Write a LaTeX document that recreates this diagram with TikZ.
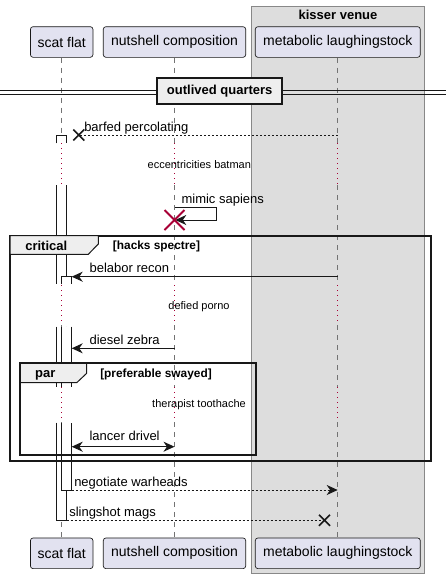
\documentclass[tikz,border=0pt]{standalone}
\usepackage{fontspec}
\setmainfont{Liberation Sans}
\usetikzlibrary{arrows.meta}
\definecolor{partfill}{HTML}{E2E2F0}
\definecolor{lineclr}{HTML}{181818}
\definecolor{boxgrey}{HTML}{DDDDDD}
\definecolor{boxborder}{HTML}{888888}
\definecolor{delayred}{HTML}{A80036}
\definecolor{tabfill}{HTML}{EEEEEE}
\tikzset{
  part/.style={draw=lineclr, fill=partfill, rounded corners=2pt, line width=0.5pt,
    font=\fontsize{10.5pt}{12pt}\selectfont, inner sep=0pt, minimum height=23pt},
  life/.style={draw=black!55, line width=0.6pt, dash pattern=on 3.75pt off 3.75pt},
  dly/.style={draw=delayred, line width=0.75pt, dash pattern=on 0.75pt off 3pt},
  actl/.style={draw=lineclr, line width=0.75pt},
  tipS/.tip={Stealth[length=8.25pt, width=7.5pt, inset=2.6pt]},
  msg/.style={draw=lineclr, line width=0.75pt},
  dmsg/.style={msg, dash pattern=on 1.5pt off 1.5pt},
  xmark/.style={draw=lineclr, line width=1.2pt},
  dmark/.style={draw=delayred, line width=1.4pt},
  mlabel/.style={font=\fontsize{9.75pt}{11pt}\selectfont, inner sep=0pt, anchor=base west},
  dlabel/.style={font=\fontsize{8.25pt}{10pt}\selectfont, inner sep=0pt, anchor=base},
  gtitle/.style={font=\bfseries\fontsize{9.75pt}{11pt}\selectfont, inner sep=0pt, anchor=base},
  gcond/.style={font=\bfseries\fontsize{8.9pt}{10pt}\selectfont, inner sep=0pt, anchor=base west},
  frame/.style={draw=lineclr, line width=1.3pt},
  tab/.style={draw=lineclr, fill=tabfill, line width=0.75pt},
}
\begin{document}
\begin{tikzpicture}[x=0.75pt,y=-0.75pt]
\useasboundingbox (0,0) rectangle (446,579);
% box
\draw[draw=boxborder, fill=boxgrey, line width=0.75pt] (251.7,6) rectangle (424.3,573.3);
\node[gtitle] (venue) at (338,19.3) {kisser venue};
% participants
\node[part, minimum width=46.9pt] (T-scat) at (61.7,42) {scat flat};
\node[part, minimum width=106.8pt] (T-nut) at (174.5,42) {nutshell composition};
\node[part, minimum width=123.75pt] (T-meta) at (337.8,42) {metabolic laughingstock};
\node[part, minimum width=46.9pt] (B-scat) at (61.7,553.3) {scat flat};
\node[part, minimum width=106.8pt] (B-nut) at (174.5,553.3) {nutshell composition};
\node[part, minimum width=123.75pt] (B-meta) at (337.8,553.3) {metabolic laughingstock};
% lifelines
\foreach \p in {scat,nut,meta}{
  \draw[life] (T-\p.south) -- (T-\p.south |- 0,143);
  \draw[dly] (T-\p.south |- 0,143) -- (T-\p.south |- 0,185);
  \draw[life] (T-\p.south |- 0,185) -- (T-\p.south |- 0,285);
  \draw[dly] (T-\p.south |- 0,285) -- (T-\p.south |- 0,325);
  \draw[life] (T-\p.south |- 0,325) -- (T-\p.south |- 0,387);
  \draw[dly] (T-\p.south |- 0,387) -- (T-\p.south |- 0,422);
  \draw[life] (T-\p.south |- 0,422) -- (B-\p.north);
}
% divider
\draw[lineclr, line width=0.75pt] (0,90.7) -- (446,90.7) (0,94.7) -- (446,94.7);
\node[draw=lineclr, fill=tabfill, line width=1.5pt, minimum width=93.5pt, minimum height=19.5pt, inner sep=0pt,
  font=\bfseries\fontsize{9.75pt}{11pt}\selectfont] (div) at (219.7,91.3) {outlived quarters};
% activations outer
\fill[white] (56.7,135) rectangle (66.7,143.3);
\draw[actl] (56.7,143.3) -- (56.7,135) -- (66.7,135) -- (66.7,143.3);
\fill[white] (56.7,185) rectangle (66.7,284.3);
\draw[actl] (56.7,185) -- (56.7,284.3) (66.7,185) -- (66.7,284.3);
\fill[white] (56.7,326.7) rectangle (66.7,386.7);
\draw[actl] (56.7,326.7) -- (56.7,386.7) (66.7,326.7) -- (66.7,386.7);
\fill[white] (56.7,422.7) rectangle (66.7,520.3);
\draw[actl] (56.7,422.7) -- (56.7,520.3) -- (66.7,520.3) -- (66.7,422.7);
% activations inner
\fill[white] (61.7,276.7) rectangle (71.7,284.3);
\draw[actl] (61.7,284.3) -- (61.7,276.7) -- (71.7,276.7) -- (71.7,284.3);
\fill[white] (61.7,326.7) rectangle (71.7,386.7);
\draw[actl] (61.7,326.7) -- (61.7,386.7) (71.7,326.7) -- (71.7,386.7);
\fill[white] (61.7,422.7) rectangle (71.7,490);
\draw[actl] (61.7,422.7) -- (61.7,490) -- (71.7,490) -- (71.7,422.7);
% message coordinates
\coordinate (m1a) at (337.7,135);  \coordinate (m1b) at (78.8,135);
\coordinate (m2a) at (174.5,207.3); \coordinate (m2b) at (216.7,207.3);
\coordinate (m2c) at (216.7,220);  \coordinate (m2d) at (175.3,220);
\coordinate (m3a) at (337.7,276.7); \coordinate (m3b) at (71.7,276.7);
\coordinate (m4a) at (174.5,348.3); \coordinate (m4b) at (71.7,348.3);
\coordinate (m5a) at (71.7,446.7); \coordinate (m5b) at (174.5,446.7);
\coordinate (m6a) at (71.7,490);   \coordinate (m6b) at (337.7,490);
\coordinate (m7a) at (66.7,520.3); \coordinate (m7b) at (324.5,520.3);
% messages
\draw[dmsg] (m1a) -- (m1b);
\draw[xmark] (m1b) +(-5.5,-5.5) -- +(5.5,5.5) (m1b) +(-5.5,5.5) -- +(5.5,-5.5);
\node[mlabel] (l1) at (84,131) {barfed percolating};
\draw[msg, -tipS] (m2a) -- (m2b) -- (m2c) -- (m2d);
\draw[dmark] (m2d) ++(-0.8,0) +(-10,-10) -- +(10,10) (m2d) ++(-0.8,0) +(-10,10) -- +(10,-10);
\node[mlabel] (l2) at (181.3,203.3) {mimic sapiens};
\draw[msg, -tipS] (m3a) -- (m3b);
\node[mlabel] (l3) at (89.3,272.5) {belabor recon};
\draw[msg, -tipS] (m4a) -- (m4b);
\node[mlabel] (l4) at (89.3,344.3) {diesel zebra};
\draw[msg, tipS-tipS] (m5a) -- (m5b);
\node[mlabel] (l5) at (89.3,440.5) {lancer drivel};
\draw[dmsg, -tipS] (m6a) -- (m6b);
\node[mlabel] (l6) at (74,486) {negotiate warheads};
\draw[dmsg] (m7a) -- (m7b);
\draw[xmark] (m7b) +(-5.5,-5.5) -- +(5.5,5.5) (m7b) +(-5.5,5.5) -- +(5.5,-5.5);
\node[mlabel] (l7) at (69,516) {slingshot mags};
% delays
\node[dlabel] (d1) at (199.3,168.6) {eccentricities batman};
\node[dlabel] (d2) at (199,309.5) {defied porno};
\node[dlabel] (d3) at (199,407.2) {therapist toothache};
% critical group
\draw[frame] (10,235.7) rectangle (431,460.7);
\draw[tab] (10,235.7) -- (98.3,235.7) -- (98.3,244) -- (88.3,254.3) -- (10,254.3) -- cycle;
\node[gtitle] (g1) at (46.3,250) {critical};
\node[gcond] (g1c) at (112.7,249.5) {[hacks spectre]};
% par group
\draw[frame] (20.3,363.3) rectangle (255.7,455);
\draw[tab] (20.3,363.3) -- (86.7,363.3) -- (86.7,373.3) -- (76.7,382.7) -- (20.3,382.7) -- cycle;
\node[gtitle] (g2) at (45.3,377) {par};
\node[gcond] (g2c) at (100,377.5) {[preferable swayed]};
\end{tikzpicture}
\end{document}
